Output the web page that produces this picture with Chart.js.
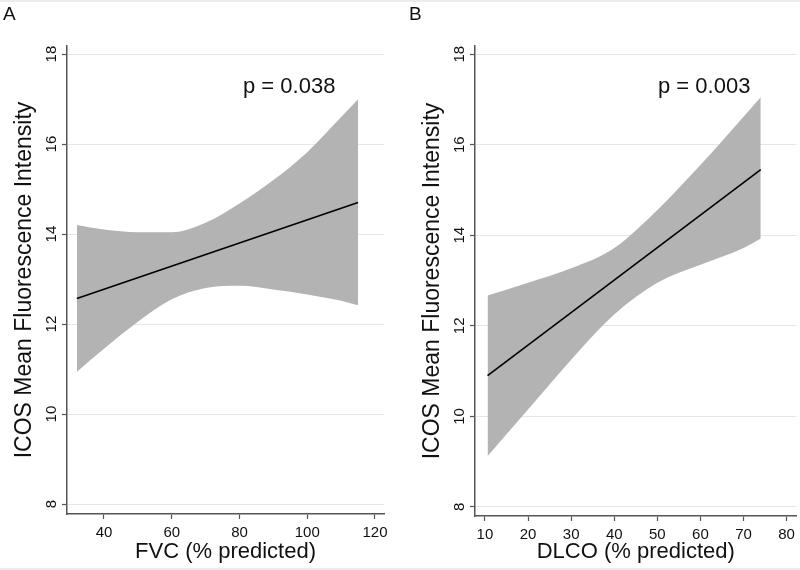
<!DOCTYPE html>
<html>
<head>
<meta charset="utf-8">
<script src="https://cdn.jsdelivr.net/npm/chart.js@4.4.1/dist/chart.umd.min.js"></script>
<style>
  html, body { margin: 0; padding: 0; background: #fff; }
  #wrap { position: relative; width: 800px; height: 570px; font-family: "Liberation Sans", Arial, sans-serif; color: #111;
          border-top: 2px solid #ececec; border-bottom: 2px solid #ececec; box-sizing: border-box; }
  .panel { position: absolute; top: -2px; width: 400px; height: 570px; }
  .lbl { position: absolute; font-size: 19px; line-height: 19px; }
  .pval { position: absolute; font-size: 22px; line-height: 22px; white-space: nowrap; }
</style>
</head>
<body>
<div id="wrap">
  <div class="panel" style="left:0"><canvas id="chartA" width="400" height="570"></canvas></div>
  <div class="panel" style="left:400px"><canvas id="chartB" width="400" height="570"></canvas></div>
  <div class="lbl" style="left:3px;top:2px">A</div>
  <div class="lbl" style="left:409px;top:2px">B</div>
  <div class="pval" style="left:243px;top:73px">p = 0.038</div>
  <div class="pval" style="left:658px;top:73px">p = 0.003</div>
</div>
<script>
// Panel A: FVC
const fvcX = [32, 40, 50, 60, 70, 80, 90, 100, 110, 115];
const fvcUpper = [14.2, 14.1, 14.04, 14.04, 14.25, 14.68, 15.2, 15.82, 16.6, 17.0];
const fvcLower = [10.94, 11.45, 12.05, 12.55, 12.8, 12.85, 12.77, 12.66, 12.52, 12.42];
const fvcFitX = [32, 115];
const fvcFit = [12.57, 14.7];
const fvcTicks = [40, 60, 80, 100, 120];

// Panel B: DLCO
const dlcoX = [10.6, 20, 30, 40, 50, 60, 70, 74];
const dlcoUpper = [12.67, 12.95, 13.27, 13.72, 14.56, 15.55, 16.62, 17.05];
const dlcoLower = [9.12, 10.15, 11.25, 12.25, 12.95, 13.35, 13.72, 13.93];
const dlcoFitX = [10.6, 74];
const dlcoFit = [10.9, 15.45];
const dlcoTicks = [10, 20, 30, 40, 50, 60, 70, 80];

const yTicks = [8, 10, 12, 14, 16, 18];

const FONT = '"Liberation Sans", Arial, sans-serif';
const TXT = '#111';
const AXIS = '#555';
const BAND = '#b3b3b3';

const pts = (xs, ys) => xs.map((x, i) => ({ x: x, y: ys[i] }));

function makeChart(id, o) {
  return new Chart(document.getElementById(id), {
    type: 'line',
    data: {
      datasets: [
        { data: pts(o.fitX, o.fit), borderColor: '#000', borderWidth: 1.6, pointRadius: 0, fill: false },
        { data: pts(o.x, o.upper), borderColor: 'rgba(0,0,0,0)', backgroundColor: BAND, pointRadius: 0,
          fill: '+1', cubicInterpolationMode: 'monotone' },
        { data: pts(o.x, o.lower), borderColor: 'rgba(0,0,0,0)', pointRadius: 0, fill: false,
          cubicInterpolationMode: 'monotone' }
      ]
    },
    options: {
      responsive: false,
      animation: false,
      layout: { padding: { top: 46, right: o.padRight, left: 0, bottom: 0 } },
      plugins: { legend: { display: false }, tooltip: { enabled: false } },
      scales: {
        x: {
          type: 'linear', min: o.xMin, max: o.xMax,
          afterBuildTicks: s => { s.ticks = o.xTicks.map(v => ({ value: v })); },
          afterFit: s => { s.height = o.xH; },
          grid: { drawOnChartArea: false, tickLength: 5, tickColor: AXIS, tickWidth: 1.2 },
          border: { color: AXIS, width: 1.5 },
          ticks: { font: { family: FONT, size: 15 }, color: TXT, padding: 5, autoSkip: false, maxRotation: 0 },
          title: { display: true, text: o.xTitle, color: TXT, font: { family: FONT, size: 22 }, padding: { top: 0, bottom: 5 } }
        },
        y: {
          type: 'linear', min: o.yMin, max: o.yMax,
          afterBuildTicks: s => { s.ticks = yTicks.map(v => ({ value: v })); },
          afterFit: s => { s.width = o.yW; },
          grid: { color: '#e6e6e6', lineWidth: 1, tickLength: 5, tickColor: AXIS, tickWidth: 1.2 },
          border: { color: AXIS, width: 1.5 },
          ticks: { font: { family: FONT, size: 15 }, color: TXT, padding: 2, autoSkip: false,
                   minRotation: 90, maxRotation: 90, crossAlign: 'center' },
          title: { display: true, text: 'ICOS Mean Fluorescence Intensity', color: TXT,
                   font: { family: FONT, size: 23 }, padding: { top: o.yTitlePad, bottom: 0 } }
        }
      }
    }
  });
}

makeChart('chartA', {
  x: fvcX, upper: fvcUpper, lower: fvcLower, fitX: fvcFitX, fit: fvcFit, xTicks: fvcTicks,
  xMin: 29.08, xMax: 122.66, yMin: 7.78, yMax: 18.18,
  xTitle: 'FVC (% predicted)', xH: 56, yW: 67, padRight: 16, yTitlePad: 11
});

makeChart('chartB', {
  x: dlcoX, upper: dlcoUpper, lower: dlcoLower, fitX: dlcoFitX, fit: dlcoFit, xTicks: dlcoTicks,
  xMin: 7.69, xMax: 82.3, yMin: 7.8, yMax: 18.18,
  xTitle: 'DLCO (% predicted)', xH: 54, yW: 75, padRight: 2, yTitlePad: 19
});
</script>
</body>
</html>
